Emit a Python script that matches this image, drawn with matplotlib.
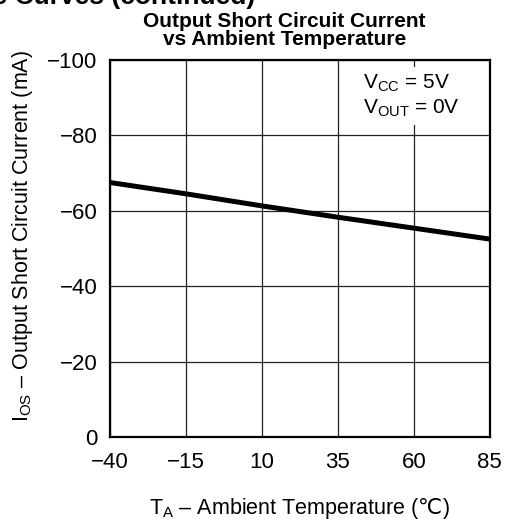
import matplotlib
matplotlib.use("Agg")
import matplotlib.pyplot as plt

plt.rcParams['font.family'] = ['Liberation Sans', 'DejaVu Sans']
plt.rcParams['mathtext.fontset'] = 'custom'
plt.rcParams['mathtext.rm'] = 'Liberation Sans'
plt.rcParams['mathtext.it'] = 'Liberation Sans'
plt.rcParams['mathtext.sf'] = 'DejaVu Sans'

# data
temp = [-40, -15, 10, 35, 60, 85]
ios = [-67.5, -64.5, -61.3, -58.3, -55.4, -52.5]

xticks = [-40, -15, 10, 35, 60, 85]
xlabels = ['\u221240', '\u221215', '10', '35', '60', '85']
yticks = [0, -20, -40, -60, -80, -100]
ylabels = ['0', '\u221220', '\u221240', '\u221260', '\u221280', '\u2212100']

fig = plt.figure(figsize=(5.07, 5.21), dpi=100)
ax = fig.add_axes([0.217, 0.161, 0.749, 0.724])

ax.plot(temp, ios, color='black', lw=3.6, solid_capstyle='butt')

ax.set_xlim(-40, 85)
ax.set_ylim(0, -100)
ax.set_xticks(xticks)
ax.set_xticklabels(xlabels, fontsize=16)
ax.set_yticks(yticks)
ax.set_yticklabels(ylabels, fontsize=16)
ax.tick_params(axis='x', length=0, pad=11)
ax.tick_params(axis='y', length=0, pad=9)
ax.grid(True, color='#222222', lw=0.9)
for s in ax.spines.values():
    s.set_linewidth(1.6)

ax.set_xlabel(r'T$_{\mathrm{A}}$ – Ambient Temperature ($\mathsf{℃}$)', fontsize=15.5, labelpad=16)
ax.set_ylabel(r'I$_{\mathrm{OS}}$ – Output Short Circuit Current (mA)', fontsize=15.5,
              labelpad=9, y=0.534)
ax.set_title('Output Short Circuit Current\nvs Ambient Temperature',
             fontsize=15, fontweight='bold', linespacing=0.92, pad=11, x=0.46)

ax.text(0.666, 0.966, r'V$_{\mathrm{CC}}$ = 5V' + '\n' + r'V$_{\mathrm{OUT}}$ = 0V',
        transform=ax.transAxes, fontsize=15, ha='left', va='top', linespacing=1.25,
        bbox=dict(facecolor='white', edgecolor='none', pad=4), zorder=5)

# heading cut off at the top of the page
fig.text(0.503, 0.993, 'Typical Performance Curves (continued)', fontsize=19,
         fontweight='bold', ha='right', va='baseline')

fig.savefig('out.png', dpi=100)
